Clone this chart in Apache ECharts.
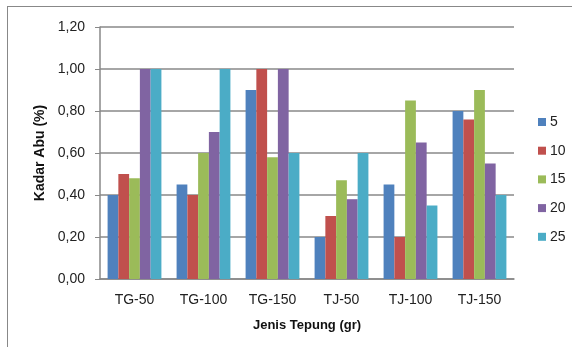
<!DOCTYPE html>
<html><head><meta charset="utf-8">
<script src="https://cdn.jsdelivr.net/npm/echarts@6/dist/echarts.min.js"></script>
<style>
html,body{margin:0;padding:0;background:#fff;}
#frame{position:absolute;left:7px;top:6px;width:565px;height:341px;border-left:1px solid #888;border-top:1px solid #888;box-sizing:border-box;}
#c{position:absolute;left:0;top:0;width:572px;height:347px;}
</style></head>
<body>
<div id="frame"></div>
<div id="c"></div>
<script>
const categories = ['TG-50','TG-100','TG-150','TJ-50','TJ-100','TJ-150'];
const seriesNames = ['5','10','15','20','25'];
const s5  = [0.40, 0.45, 0.90, 0.20, 0.45, 0.80];
const s10 = [0.50, 0.40, 1.00, 0.30, 0.20, 0.76];
const s15 = [0.48, 0.60, 0.58, 0.47, 0.85, 0.90];
const s20 = [1.00, 0.70, 1.00, 0.38, 0.65, 0.55];
const s25 = [1.00, 1.00, 0.60, 0.60, 0.35, 0.40];
const colors = ['#4F81BD','#C0504D','#9BBB59','#8064A2','#4BACC6'];
const allData = [s5, s10, s15, s20, s25];

const chart = echarts.init(document.getElementById('c'));
const font = 'Liberation Sans, Arial, sans-serif';
chart.setOption({
  animation: false,
  color: colors,
  textStyle: {fontFamily: font},
  grid: {left: 100, top: 27, width: 414, height: 252, containLabel: false},
  legend: {
    orient: 'vertical', left: 533, top: 110, itemGap: 14.7,
    itemWidth: 8, itemHeight: 8, icon: 'rect',
    textStyle: {fontSize: 14, color: '#222', fontFamily: font, padding: [0,0,0,-1]},
    data: seriesNames
  },
  xAxis: {
    type: 'category', data: categories,
    axisLine: {lineStyle: {color: '#888', width: 1.5}},
    axisTick: {show: false},
    axisLabel: {fontSize: 14, color: '#222', margin: 14},
    name: 'Jenis Tepung (gr)', nameLocation: 'middle', nameGap: 40,
    nameTextStyle: {fontSize: 13, fontWeight: 'bold', color: '#111'}
  },
  yAxis: {
    type: 'value', min: 0, max: 1.2, interval: 0.2,
    axisLine: {show: true, lineStyle: {color: '#888', width: 1.5}},
    axisTick: {show: true, length: 5, lineStyle: {color: '#888'}},
    splitLine: {lineStyle: {color: '#888', width: 1.5}},
    axisLabel: {fontSize: 14, color: '#222', margin: 15,
      formatter: v => v.toFixed(2).replace('.', ',')},
    name: 'Kadar Abu (%)', nameLocation: 'middle', nameGap: 49, nameRotate: 90,
    nameTextStyle: {fontSize: 14, fontWeight: 'bold', color: '#111'}
  },
  series: seriesNames.map((n, i) => ({
    name: n, type: 'bar', data: allData[i],
    barGap: '0%', barCategoryGap: '22%'
  }))
});
</script>
</body></html>
